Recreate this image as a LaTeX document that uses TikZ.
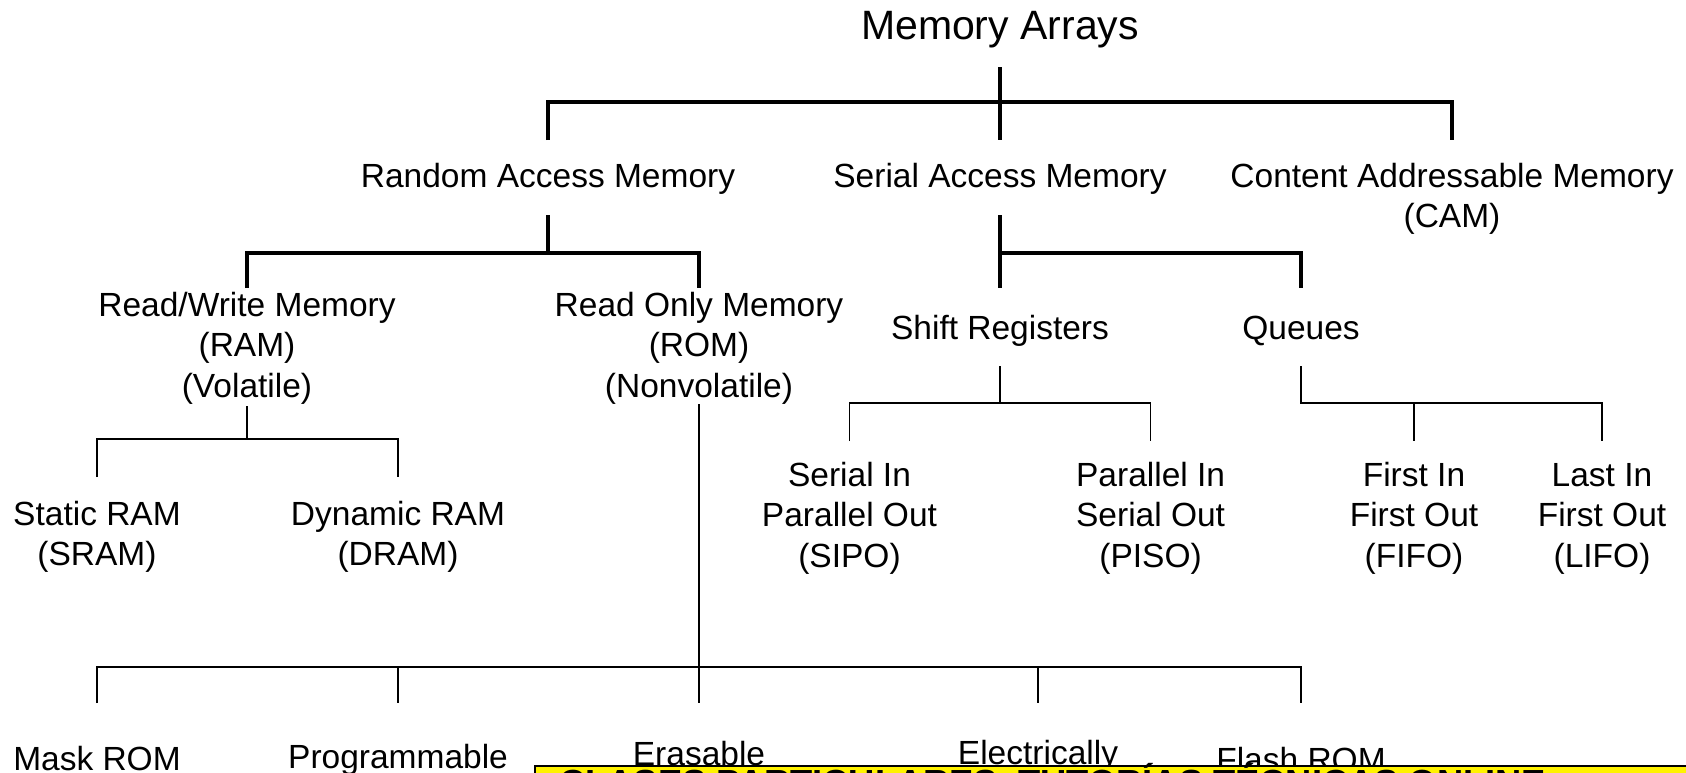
\documentclass[tikz,border=0pt]{standalone}
\usepackage{fontspec}
\setmainfont{Liberation Sans}
% multi-line centred block whose baseline is that of its first line
\newcommand\stacklines[1]{\vtop{\halign{\hfil##\hfil\cr#1\crcr}}}
\begin{document}
\begin{tikzpicture}[x=1pt,y=-1pt,
  lbl/.style={anchor=base,inner sep=0pt,font=\fontsize{33.5}{40.5}\selectfont},
  ttl/.style={anchor=base,inner sep=0pt,font=\fontsize{41}{49}\selectfont},
  heavy/.style={line width=3.8pt},
  medium/.style={line width=3.2pt},
  light/.style={line width=1.1pt}]
\useasboundingbox (0,0) rectangle (1686,772);
\clip (0,0) rectangle (1686,772);

% ---- labels ----
\node[ttl] (arrays) at (1000,39) {Memory Arrays};

\node[lbl] (ram) at (548,187) {Random Access Memory};
\node[lbl] (sam) at (1000,187) {Serial Access Memory};
\node[lbl] (cam) at (1452,187) {\stacklines{Content Addressable Memory\cr(CAM)}};

\node[lbl] (rw) at (247,316) {\stacklines{Read/Write Memory\cr(RAM)\cr(Volatile)}};
\node[lbl] (rom) at (699,316) {\stacklines{Read Only Memory\cr(ROM)\cr(Nonvolatile)}};
\node[lbl] (shift) at (1000,339) {Shift Registers};
\node[lbl] (queues) at (1301,339) {Queues};

\node[lbl] (sram) at (97,525) {\stacklines{Static RAM\cr(SRAM)}};
\node[lbl] (dram) at (398,525) {\stacklines{Dynamic RAM\cr(DRAM)}};
\node[lbl] (sipo) at (849.5,486) {\stacklines{Serial In\cr Parallel Out\cr(SIPO)}};
\node[lbl] (piso) at (1150.6,486) {\stacklines{Parallel In\cr Serial Out\cr(PISO)}};
\node[lbl] (fifo) at (1414,486) {\stacklines{First In\cr First Out\cr(FIFO)}};
\node[lbl] (lifo) at (1602,486) {\stacklines{Last In\cr First Out\cr(LIFO)}};

\node[lbl] (mask) at (97,770) {Mask ROM};
\node[lbl] (prog) at (398,768) {Programmable};
\node[lbl] (eras) at (699,765) {Erasable};
\node[lbl] (elec) at (1038,764) {Electrically};
\node[lbl] (flash) at (1301,771) {Flash ROM};

% ---- junction points ----
\coordinate (a0) at (1000,67);  \coordinate (a1) at (1000,102); \coordinate (a2) at (1000,140);
\coordinate (aL) at (548,102);  \coordinate (aLd) at (548,140);
\coordinate (aM) at (699,102);
\coordinate (aR) at (1452,102); \coordinate (aRd) at (1452,140);

\coordinate (r0) at (548,215);  \coordinate (r1) at (548,253);
\coordinate (rL) at (247,253);  \coordinate (rLd) at (247,288);
\coordinate (rR) at (699,253);  \coordinate (rRd) at (699,288);

\coordinate (s0) at (1000,215); \coordinate (s1) at (1000,253); \coordinate (s2) at (1000,288);
\coordinate (sR) at (1301,253); \coordinate (sRd) at (1301,288);

\coordinate (w0) at (247,406);  \coordinate (w1) at (247,439);
\coordinate (wL) at (97,439);   \coordinate (wLd) at (97,477);
\coordinate (wR) at (398,439);  \coordinate (wRd) at (398,477);

\coordinate (h0) at (1000,366); \coordinate (h1) at (1000,403);
\coordinate (hL) at (849.5,403);  \coordinate (hLd) at (849.5,441);
\coordinate (hR) at (1150.6,403); \coordinate (hRd) at (1150.6,441);

\coordinate (q0) at (1301,366); \coordinate (q1) at (1301,403);
\coordinate (qM) at (1414,403); \coordinate (qMd) at (1414,441);
\coordinate (qR) at (1602,403); \coordinate (qRd) at (1602,441);

\coordinate (o0) at (699,404);  \coordinate (o1) at (699,667); \coordinate (o1d) at (699,703);
\coordinate (oA) at (97,667);   \coordinate (oAd) at (97,703);
\coordinate (oB) at (398,667);  \coordinate (oBd) at (398,703);
\coordinate (oD) at (1038,667); \coordinate (oDd) at (1038,703);
\coordinate (oE) at (1301,667); \coordinate (oEd) at (1301,703);

% ---- connectors ----
\draw[heavy] (a0) -- (a2);
\draw[heavy] (aLd) -- (aL) -- (aR) -- (aRd);
\draw[line width=4.8pt] (aL) -- (aM);

\draw[medium] (r0) -- (r1);
\draw[medium] (rLd) -- (rL) -- (rR) -- (rRd);
\draw[medium] (s0) -- (s2);
\draw[medium] (s1) -- (sR) -- (sRd);

\draw[light] (w0) -- (w1);
\draw[light] (wLd) -- (wL) -- (wR) -- (wRd);
\draw[light] (h0) -- (h1);
\draw[light] (hLd) -- (hL) -- (hR) -- (hRd);
\draw[light] (q0) -- (q1) -- (qR) -- (qRd);
\draw[light] (qM) -- (qMd);

\draw[light] (o0) -- (o1);
\draw[light] (oAd) -- (oA) -- (oE) -- (oEd);
\draw[light] (oB) -- (oBd);
\draw[light] (o1) -- (o1d);
\draw[light] (oD) -- (oDd);

% ---- banner strip along the bottom ----
\draw[line width=2pt,fill=yellow] (535,766) rectangle (1720,820);
\node[anchor=base west,inner sep=0pt,font=\bfseries\fontsize{36.3}{40}\selectfont] (banner) at (559,795)
  {CLASES PARTICULARES, TUTORÍAS TÉCNICAS ONLINE};
\end{tikzpicture}
\end{document}
